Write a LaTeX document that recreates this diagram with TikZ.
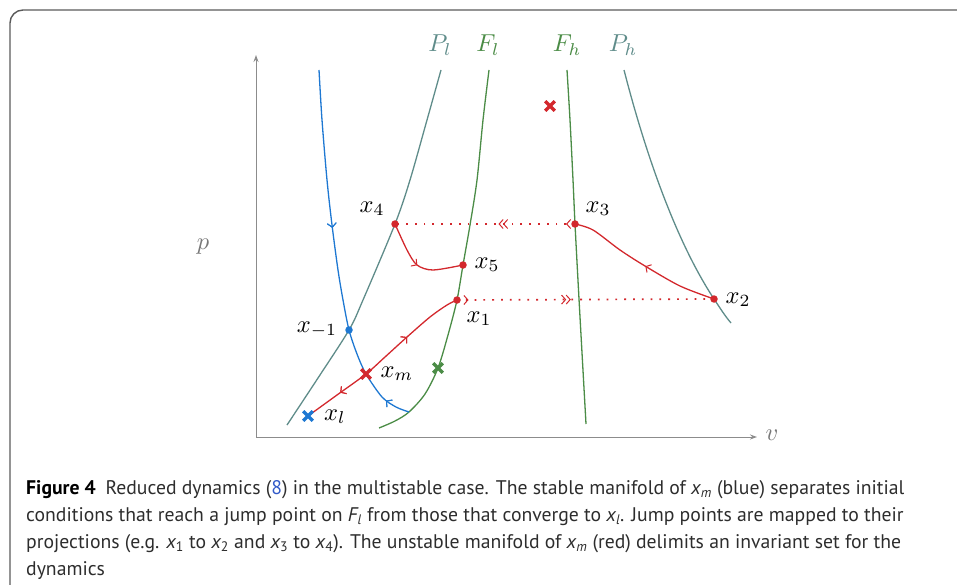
\documentclass[tikz,border=0pt]{standalone}
\usepackage{fontspec}
\newfontfamily\capfont{PT Sans}
\usetikzlibrary{arrows.meta,decorations.markings,shapes.misc}
\definecolor{cred}{RGB}{211,40,45}
\definecolor{cblue}{RGB}{30,120,210}
\definecolor{cgreen}{RGB}{75,140,70}
\definecolor{cteal}{RGB}{95,140,138}
\definecolor{caxis}{RGB}{140,140,140}
\definecolor{clabel}{RGB}{120,120,120}
\definecolor{cframe}{RGB}{90,90,90}
\definecolor{clink}{RGB}{50,90,200}
\definecolor{ctext}{RGB}{45,45,45}
\tikzset{
  cbarb/.tip={Straight Barb[length=4pt,width=9pt,line width=1pt]},
  curve/.style={line width=1.3pt},
  arrowfw/.style={postaction={decorate},decoration={markings,mark=at position #1 with {\arrow{cbarb}}}},
  arrowbw/.style={postaction={decorate},decoration={markings,mark=at position #1 with {\arrowreversed{cbarb}}}},
  dotmark/.style={circle,fill=#1,inner sep=0pt,minimum size=7.5pt},
  crossmark/.style={cross out,draw=#1,line width=3.2pt,inner sep=0pt,minimum size=6.5pt},
  mlabel/.style={anchor=base,scale=2.45},
  caxislab/.style={anchor=base,scale=2.45,text=clabel},
  capline/.style={anchor=base west,inner sep=0pt,font=\capfont\fontsize{19.7}{27}\selectfont,text=ctext},
  jump/.style={cred,line width=1.7pt,dash pattern=on 1.8pt off 7pt},
}
\begin{document}
\begin{tikzpicture}[x=1pt,y=-1pt]
\useasboundingbox (0,0) rectangle (957,585);
% frame
\draw[cframe,line width=1.4pt,rounded corners=13pt] (10,585) -- (10,10) -- (957,10);
% axes
\coordinate (O) at (256,437);
\coordinate (ytop) at (256,55);
\coordinate (xend) at (757,437);
\draw[caxis,line width=1pt,-{Stealth[length=7pt,width=5pt]}] (O) -- (ytop);
\draw[caxis,line width=1pt,-{Stealth[length=7pt,width=5pt]}] (O) -- (xend);
\node[caxislab] (vlab) at (772,440) {$v$};
\node[caxislab] (plab) at (203,249) {$p$};
% key points
\coordinate (xm1) at (349,330);
\coordinate (xm) at (366,374);
\coordinate (xl) at (308,416);
\coordinate (x1) at (457,300);
\coordinate (x2) at (714,299);
\coordinate (x3) at (575,224);
\coordinate (x4) at (395,224);
\coordinate (x5) at (463,265);
\coordinate (xg) at (438,368);
\coordinate (xr) at (550,106);
\coordinate (bend) at (409,412);
\coordinate (phtop) at (624,70);
\coordinate (phbot) at (731,323);
% nullclines
\draw[cteal,curve] plot[smooth] coordinates {(287,425) (318,378) (xm1) (363,300) (x4) (410,180) (427,120) (441,70)};
\draw[cgreen,curve] plot[smooth] coordinates {(379,428) (395,421) (bend) (425,394) (xg) (448,335) (x1) (x5) (470,225) (477,180) (483,120) (489,70)};
\draw[cgreen,curve] plot[smooth] coordinates {(567,70) (570,120) (573,180) (x3) (579,299) (586,424)};
\draw[cteal,curve] (phtop) .. controls (642,140) and (672,235) .. (x2) .. controls (720,308) and (725,316) .. (phbot);
\node[anchor=base,scale=2.45,text=cteal] (Pl) at (440,52) {$P_l$};
\node[anchor=base,scale=2.45,text=cgreen] (Fl) at (488,52) {$F_l$};
\node[anchor=base,scale=2.45,text=cgreen] (Fh) at (567,52) {$F_h$};
\node[anchor=base,scale=2.45,text=cteal] (Ph) at (623,52) {$P_h$};
% stable manifold (blue)
\draw[cblue,curve,arrowfw=0.43,arrowbw=0.93] plot[smooth] coordinates {(319,70) (322,120) (327,180) (332,225) (338,270) (343,300) (xm1) (357,354) (xm) (382,397) (396,407) (bend)};
% unstable manifold (red)
\draw[cred,curve,arrowbw=0.21,arrowfw=0.67] plot[smooth] coordinates {(xl) (337,395) (xm) (385,357) (407,337) (430,317) (447,305) (x1)};
% trajectories
\draw[cred,curve,arrowfw=0.5] plot[smooth] coordinates {(x4) (407,250) (417,265) (433,270) (x5)};
\draw[cred,curve,arrowfw=0.48] plot[smooth] coordinates {(x2) (680,286) (645,266) (620,250) (593,230) (x3)};
% jumps
\draw[jump,postaction={decorate},decoration={markings,
   mark=at position 0.045 with {\arrow{cbarb}},
   mark=at position 0.425 with {\arrow{cbarb}},
   mark=at position 0.443 with {\arrow{cbarb}}}] (x1) -- (x2);
\draw[jump,postaction={decorate},decoration={markings,
   mark=at position 0.05 with {\arrow{cbarb}},
   mark=at position 0.40 with {\arrow{cbarb}},
   mark=at position 0.425 with {\arrow{cbarb}}}] (x3) -- (x4);
% points
\node[dotmark=cred] (d1) at (x1) {};
\node[dotmark=cred] (d2) at (x2) {};
\node[dotmark=cred] (d3) at (x3) {};
\node[dotmark=cred] (d4) at (x4) {};
\node[dotmark=cred] (d5) at (x5) {};
\node[dotmark=cblue] (dm1) at (xm1) {};
\node[crossmark=cred] (cm) at (xm) {};
\node[crossmark=cblue] (cl) at (xl) {};
\node[crossmark=cgreen] (cg) at (xg) {};
\node[crossmark=cred] (cr) at (xr) {};
% labels
\node[mlabel] (l4) at (372,212) {$x_4$};
\node[mlabel] (l3) at (598,212) {$x_3$};
\node[mlabel] (l5) at (487,268) {$x_5$};
\node[mlabel] (l2) at (738,303) {$x_2$};
\node[mlabel] (l1) at (479,322) {$x_1$};
\node[mlabel] (lm1) at (317,332) {$x_{-1}$};
\node[mlabel] (lm) at (397,377) {$x_m$};
\node[mlabel] (ll) at (335,420) {$x_l$};
% caption
\node[capline] (cap1) at (26,494) {\textbf{\color{black}Figure 4}\hspace{0.5em}Reduced dynamics (\textcolor{clink}{8}) in the multistable case. The stable manifold of {\itshape x}\textsubscript{\itshape m} (blue) separates initial};
\node[capline] (cap2) at (26,521) {conditions that reach a jump point on {\itshape F}\textsubscript{\itshape l} from those that converge to {\itshape x}\textsubscript{\itshape l}. Jump points are mapped to their};
\node[capline] (cap3) at (26,548) {projections (e.g. {\itshape x}\textsubscript{1} to {\itshape x}\textsubscript{2} and {\itshape x}\textsubscript{3} to {\itshape x}\textsubscript{4}). The unstable manifold of {\itshape x}\textsubscript{\itshape m} (red) delimits an invariant set for the};
\node[capline] (cap4) at (26,575) {dynamics};
\end{tikzpicture}
\end{document}
